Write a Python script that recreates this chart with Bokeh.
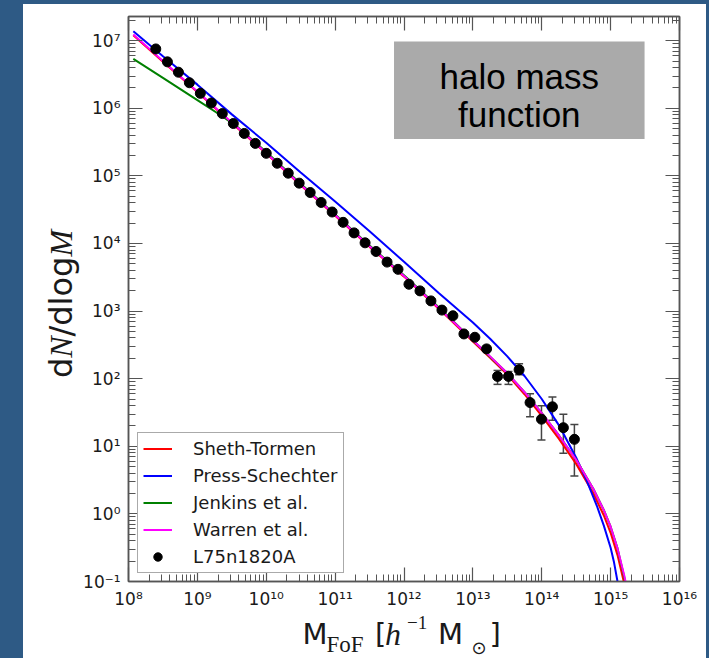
import numpy as np
from bokeh.plotting import figure
from bokeh.models import (Range1d, LogAxis, FixedTicker, CustomJSTickFormatter, Legend,
                          LegendItem, Whisker, TeeHead, ColumnDataSource, Label, BoxAnnotation)
from bokeh.layouts import column, row
from bokeh.core.properties import value
from bokeh.embed import file_html
from bokeh.resources import INLINE

# ---------------- data (log10 values) ----------------
# Sheth-Tormen
st_logm = [8.07, 8.5, 9.0, 9.5, 10.0, 10.5, 11.0, 11.5, 12.0, 12.5, 13.0, 13.25, 13.5, 13.75,
           14.0, 14.25, 14.5, 14.75, 14.9, 15.0, 15.1, 15.2]
st_logn = [7.08, 6.69, 6.24, 5.78, 5.33, 4.86, 4.41, 3.95, 3.51, 3.04, 2.55, 2.31, 2.06, 1.77,
           1.45, 1.11, 0.74, 0.30, -0.02, -0.28, -0.61, -1.04]
# Press-Schechter
ps_logm = [8.07, 8.5, 9.0, 9.5, 10.0, 10.5, 11.0, 11.5, 12.0, 12.5, 13.0, 13.25, 13.5, 13.75,
           14.0, 14.25, 14.5, 14.65, 14.8, 14.9, 15.0, 15.05, 15.1, 15.13]
ps_logn = [7.14, 6.77, 6.35, 5.91, 5.49, 5.05, 4.62, 4.18, 3.73, 3.27, 2.83, 2.59, 2.33, 2.04,
           1.70, 1.31, 0.83, 0.50, 0.12, -0.17, -0.50, -0.72, -1.00, -1.20]
# Jenkins et al.
jk_logm = [8.07, 8.5, 9.0, 9.35, 9.6, 10.0, 10.5, 11.0, 11.5, 12.0, 12.5, 13.0, 13.5, 13.75,
           14.0, 14.25, 14.5, 14.75, 14.9, 15.0, 15.1, 15.24]
jk_logn = [6.73, 6.45, 6.12, 5.89, 5.71, 5.355, 4.885, 4.43, 3.97, 3.53, 3.06, 2.57, 2.08, 1.80,
           1.49, 1.16, 0.80, 0.37, 0.06, -0.19, -0.51, -1.12]
# Warren et al.
wr_logm = [8.07, 8.5, 9.0, 9.5, 10.0, 10.5, 11.0, 11.5, 12.0, 12.5, 13.0, 13.25, 13.5, 13.75,
           14.0, 14.25, 14.5, 14.75, 14.9, 15.0, 15.1, 15.2, 15.24]
wr_logn = [7.09, 6.70, 6.25, 5.79, 5.34, 4.87, 4.42, 3.96, 3.52, 3.05, 2.57, 2.33, 2.08, 1.80,
           1.49, 1.16, 0.80, 0.37, 0.06, -0.19, -0.51, -0.92, -1.12]
# L75n1820A simulation points
halo_logm = [8.396, 8.565, 8.725, 8.884, 9.043, 9.203, 9.362, 9.522, 9.681, 9.841,
             10.0, 10.159, 10.319, 10.478, 10.638, 10.797, 10.957, 11.116, 11.275, 11.435,
             11.594, 11.754, 11.913, 12.072, 12.232, 12.391, 12.551, 12.710, 12.870, 13.029,
             13.199, 13.358, 13.517, 13.671, 13.830, 13.996, 14.155, 14.314, 14.474]
halo_logn = [6.878, 6.687, 6.534, 6.378, 6.221, 6.078, 5.922, 5.775, 5.628, 5.481,
             5.334, 5.187, 5.040, 4.893, 4.754, 4.607, 4.466, 4.313, 4.157, 4.010,
             3.882, 3.725, 3.618, 3.397, 3.299, 3.151, 3.015, 2.931, 2.662, 2.613,
             2.441, 2.034, 2.034, 2.132, 1.647, 1.401, 1.584, 1.275, 1.103]
# visible error bars (last eight points)
err_first = 31
err_hi_log = [2.122, 2.107, 2.221, 1.779, 1.599, 1.731, 1.475, 1.324]
err_lo_log = [1.916, 1.916, 2.059, 1.437, 1.093, 1.387, 0.897, 0.559]

x_ticks = [1e8, 1e9, 1e10, 1e11, 1e12, 1e13, 1e14, 1e15, 1e16]
y_ticks = [1e-1, 1e0, 1e1, 1e2, 1e3, 1e4, 1e5, 1e6, 1e7]
legend_labels = ["Sheth-Tormen", "Press-Schechter", "Jenkins et al.", "Warren et al.", "L75n1820A"]
title_lines = ["halo mass", "function"]
# x label pieces: text, font, size(px), style, role
xlabel_parts = [("M", "DejaVu Sans", 29, "normal", "base"),
                ("FoF", "Liberation Serif", 23, "normal", "sub"),
                ("[", "DejaVu Sans", 29, "normal", "base"),
                ("h", "Liberation Serif", 32, "italic", "base"),
                ("\u22121", "Liberation Serif", 19, "normal", "sup"),
                ("M", "DejaVu Sans", 29, "normal", "base"),
                ("\u2299", "DejaVu Sans", 18, "normal", "sub2"),
                ("]", "DejaVu Sans", 29, "normal", "base")]
ylabel_parts = [("d", "DejaVu Sans", "normal"),
                ("N", "Liberation Serif", "italic"),
                ("/", "DejaVu Sans", "normal"),
                ("dlog", "DejaVu Sans", "normal"),
                ("M", "Liberation Serif", "italic")]

def pw(v):
    return [10.0 ** a for a in v]

BG = "#2e5a85"
AX = "#555555"
TXT = "#1a1a1a"
# distance from baseline to the middle of the text box, in em
MID = {"DejaVu Sans": 0.346, "Liberation Serif": 0.338}

# ---------------- main plot ----------------
# page layout (absolute px): white panel x 23..706, y 4..658
# y-label strip x 23..80 ; main figure x 80..706, y 4..611 ; x-label strip y 611..658
p = figure(width=626, height=607, x_axis_type="log", y_axis_type="log",
           x_range=Range1d(1e8, 1e16), y_range=Range1d(1e-1, 2.28e7),
           output_backend="svg", toolbar_location=None, frame_align=False,
           min_border_left=47, min_border_right=27, min_border_top=12, min_border_bottom=27)
p.border_fill_color = "white"
p.background_fill_color = "white"
p.outline_line_color = AX
p.outline_line_width = 1.5
p.xgrid.visible = False
p.ygrid.visible = False

sup_code = """
const sup = {"0":"\u2070","1":"\u00b9","2":"\u00b2","3":"\u00b3","4":"\u2074","5":"\u2075",
             "6":"\u2076","7":"\u2077","8":"\u2078","9":"\u2079","-":"\u207b"};
const e = Math.round(Math.log10(tick));
return "10" + String(e).split("").map(c => sup[c]).join("");
"""

def minor_for(majors):
    out = []
    for m in majors[:-1]:
        for k in range(2, 10):
            out.append(k * m)
    return out

def style_axis(ax, labels=True, standoff=8):
    ax.axis_line_color = AX
    ax.axis_line_width = 1.5
    ax.major_tick_line_color = AX
    ax.minor_tick_line_color = AX
    ax.major_tick_line_width = 1.2
    ax.minor_tick_line_width = 1.0
    ax.major_tick_in = 14
    ax.major_tick_out = 0
    ax.minor_tick_in = 7
    ax.minor_tick_out = 0
    if labels:
        ax.formatter = CustomJSTickFormatter(code=sup_code)
        ax.major_label_text_font = "DejaVu Sans"
        ax.major_label_text_font_size = "17px"
        ax.major_label_text_color = TXT
        ax.major_label_standoff = standoff
    else:
        ax.formatter = CustomJSTickFormatter(code="return '';")
        ax.major_label_text_font_size = "0px"
        ax.major_label_standoff = 0

p.xaxis[0].ticker = FixedTicker(ticks=x_ticks, minor_ticks=minor_for(x_ticks))
p.yaxis[0].ticker = FixedTicker(ticks=y_ticks, minor_ticks=minor_for(y_ticks + [1e8]))
style_axis(p.xaxis[0], standoff=7)
style_axis(p.yaxis[0], standoff=8)

top_ax = LogAxis(ticker=FixedTicker(ticks=x_ticks, minor_ticks=minor_for(x_ticks)))
right_ax = LogAxis(ticker=FixedTicker(ticks=y_ticks, minor_ticks=minor_for(y_ticks + [1e8])))
style_axis(top_ax, labels=False)
style_axis(right_ax, labels=False)
p.add_layout(top_ax, "above")
p.add_layout(right_ax, "right")

# model curves
r_st = p.line(pw(st_logm), pw(st_logn), line_color="#ff0000", line_width=2)
r_ps = p.line(pw(ps_logm), pw(ps_logn), line_color="#0000ff", line_width=2)
r_jk = p.line(pw(jk_logm), pw(jk_logn), line_color="#008000", line_width=2)
r_wr = p.line(pw(wr_logm), pw(wr_logn), line_color="#ff00ff", line_width=2)

# simulation points with error bars
err_src = ColumnDataSource(dict(m=pw(halo_logm[err_first:]), hi=pw(err_hi_log), lo=pw(err_lo_log)))
wh = Whisker(base="m", upper="hi", lower="lo", source=err_src, dimension="height",
             line_color="#444444", line_width=1.5, level="underlay",
             upper_head=TeeHead(size=8, line_color="#444444", line_width=1.5),
             lower_head=TeeHead(size=8, line_color="#444444", line_width=1.5))
p.add_layout(wh)
r_pts = p.scatter(pw(halo_logm), pw(halo_logn), size=10, marker="circle",
                  fill_color="black", line_color="black")

legend = Legend(items=[LegendItem(label=legend_labels[0], renderers=[r_st]),
                       LegendItem(label=legend_labels[1], renderers=[r_ps]),
                       LegendItem(label=legend_labels[2], renderers=[r_jk]),
                       LegendItem(label=legend_labels[3], renderers=[r_wr]),
                       LegendItem(label=legend_labels[4], renderers=[r_pts])],
                location=(9, 8), padding=5, spacing=6, margin=0,
                glyph_width=29, glyph_height=21, label_height=21, label_standoff=21,
                label_text_font="DejaVu Sans", label_text_font_size="18px",
                label_text_color=TXT, border_line_color=AX, border_line_width=1.2,
                background_fill_color="white", background_fill_alpha=1.0)
p.add_layout(legend)

# title box (positions in the log data space of the frame)
def xd(px):  # absolute page px -> data
    return 10 ** (8 + (px - 127.0) / 69.0)

def yd(py):
    return 10 ** (-1 + (584.0 - py) / 67.97)

p.add_layout(BoxAnnotation(left=xd(393), right=xd(644), top=yd(41), bottom=yd(139),
                           fill_color="#aaaaaa", fill_alpha=1.0, line_color=None))
for txt, cy in zip(title_lines, [76, 114]):
    p.add_layout(Label(x=xd(518.5), y=yd(cy), text=txt, text_align="center",
                       text_baseline="middle", text_font="Liberation Sans",
                       text_font_size="35px", text_color="black"))

# ---------------- label strips (plain canvases holding the axis titles) ----------------
def strip(w, h):
    f = figure(width=w, height=h, x_range=Range1d(0, w), y_range=Range1d(0, h),
               output_backend="svg", toolbar_location=None, frame_align=False,
               x_axis_location=None, y_axis_location=None,
               min_border=0, min_border_left=0, min_border_right=0,
               min_border_top=0, min_border_bottom=0)
    f.grid.visible = False
    f.outline_line_color = None
    f.border_fill_color = "white"
    f.background_fill_color = "white"
    return f

# x label strip: abs x 80..706, abs y 611..658
xl = strip(626, 47)
x_left_abs = [302, 326, 374.5, 384.5, 406.5, 437.5, 471, 489]
base_abs = {"base": 644, "sub": 652, "sup": 628, "sub2": 653}
for (txt, font, size, style, role), ax_ in zip(xlabel_parts, x_left_abs):
    mid_abs = base_abs[role] - MID[font] * size
    xl.text(x=[ax_ - 80], y=[658 - mid_abs], text=[txt],
            text_font=value(font), text_font_size=value(f"{size}px"), text_font_style=value(style),
            text_align="left", text_baseline="middle", text_color=TXT)

# y label strip: abs x 23..80, abs y 4..658 (text rotated, baseline at abs x 71.5)
yl = strip(57, 654)
y_start_abs = [377.6, 357.3, 336.0, 325.2, 256.1]
for (txt, font, style), ys in zip(ylabel_parts, y_start_abs):
    mid_x = 71.5 - MID[font] * 32
    yl.text(x=[mid_x - 23], y=[658 - ys], text=[txt], angle=np.pi / 2,
            text_font=value(font), text_font_size=value("32px"), text_font_style=value(style),
            text_align="left", text_baseline="middle", text_color=TXT)

inner = row(yl, column(p, xl, spacing=0, styles={"background-color": "white"}),
            spacing=0, margin=(4, 3, 0, 23), styles={"background-color": "white"})
page = column(inner, width=709, height=658, styles={"background-color": BG})
open("out.html", "w").write(file_html(page, INLINE))
